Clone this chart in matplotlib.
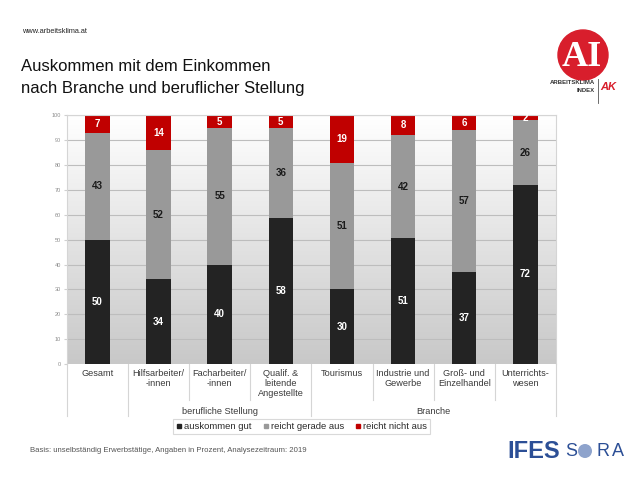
import numpy as np
import matplotlib
matplotlib.use("Agg")
import matplotlib.pyplot as plt
from matplotlib import font_manager
from matplotlib.colors import LinearSegmentedColormap
from matplotlib.patches import Circle
from matplotlib.lines import Line2D

categories = ["Gesamt", "Hilfsarbeiter/\n-innen", "Facharbeiter/\n-innen",
              "Qualif. &\nleitende\nAngestellte", "Tourismus", "Industrie und\nGewerbe",
              "Groß- und\nEinzelhandel", "Unterrichts-\nwesen"]
gut = [50, 34, 40, 58, 30, 51, 37, 72]
gerade = [43, 52, 55, 36, 51, 42, 57, 26]
nicht = [7, 14, 5, 5, 19, 8, 6, 2]
series_names = ["auskommen gut", "reicht gerade aus", "reicht nicht aus"]
group_names = ["berufliche Stellung", "Branche"]
yticks = list(range(0, 101, 10))

names = {f.name for f in font_manager.fontManager.ttflist}
BASE = "Liberation Sans" if "Liberation Sans" in names else "DejaVu Sans"
NARROW = "Liberation Sans Narrow" if "Liberation Sans Narrow" in names else BASE
title_size = 13.5 if NARROW != BASE else 12
plt.rcParams["font.family"] = [BASE, "DejaVu Sans"]

W, H = 640, 484
fig = plt.figure(figsize=(W / 100, H / 100), dpi=100)
fig.patch.set_facecolor("white")

def fx(px):
    return px / W

def fy(py):
    return 1 - py / H

ax_l, ax_r, ax_t, ax_b = 66.7, 556, 115.3, 364
ax = fig.add_axes([fx(ax_l), fy(ax_b), fx(ax_r) - fx(ax_l), (ax_b - ax_t) / H])

n = len(categories)
x = np.arange(n)
g = np.array(gut, float)
m = np.array(gerade, float)
r = np.array(nicht, float)
tot = g + m + r
gn, mn, rn = g / tot * 100, m / tot * 100, r / tot * 100

cmap = LinearSegmentedColormap.from_list("bg", ["#c8c8c8", "#ffffff"])
grad = np.linspace(0, 1, 256).reshape(-1, 1)
ax.imshow(grad, extent=[-0.5, n - 0.5, 0, 100], aspect="auto", cmap=cmap,
          origin="lower", zorder=0)
ax.set_xlim(-0.5, n - 0.5)
ax.set_ylim(0, 100)
for yv in yticks[1:]:
    ax.axhline(yv, color="#bdbdbd", lw=0.8, zorder=1)

cols = ["#232323", "#999999", "#c00000"]
bw = 0.4
ax.bar(x, gn, bw, color=cols[0], zorder=2, label=series_names[0])
ax.bar(x, mn, bw, bottom=gn, color=cols[1], zorder=2, label=series_names[1])
ax.bar(x, rn, bw, bottom=gn + mn, color=cols[2], zorder=2, label=series_names[2])

vfs = 7
for i in range(n):
    ax.text(x[i], gn[i] / 2, str(gut[i]), ha="center", va="center", color="white",
            fontsize=vfs, fontweight="bold", zorder=3)
    ax.text(x[i], gn[i] + mn[i] / 2, str(gerade[i]), ha="center", va="center",
            color="#1a1a1a", fontsize=vfs, fontweight="bold", zorder=3)
    ax.text(x[i], gn[i] + mn[i] + rn[i] / 2, str(nicht[i]), ha="center", va="center",
            color="white", fontsize=vfs, fontweight="bold", zorder=3)

ax.set_yticks(yticks)
ax.set_yticklabels([str(v) for v in yticks], fontsize=4, color="#8c8c8c")
ax.tick_params(axis="y", length=2, color="#d0d0d0", pad=2)
ax.set_xticks([])
for s in ["left", "right", "top"]:
    ax.spines[s].set_color("#d5d5d5")
    ax.spines[s].set_linewidth(0.8)
ax.spines["bottom"].set_visible(False)

hpx = ax_b - ax_t
def ay(py):
    return (ax_b - py) / hpx

trans = ax.get_xaxis_transform()
long_b = [-0.5, 0.5, 3.5, n - 0.5]
for b in np.arange(-0.5, n, 1.0):
    yend = ay(416) if b in long_b else ay(400)
    ax.add_line(Line2D([b, b], [0, yend], transform=trans, color="#d5d5d5", lw=0.8,
                       clip_on=False))

for i, c in enumerate(categories):
    ax.text(x[i], ay(368.5), c, transform=trans, ha="center", va="top", fontsize=6.6,
            color="#3a3a3a", linespacing=1.15, clip_on=False)
ax.text(2, ay(411), group_names[0], transform=trans, ha="center", va="center",
        fontsize=6.6, color="#3a3a3a", clip_on=False)
ax.text(5.5, ay(411), group_names[1], transform=trans, ha="center", va="center",
        fontsize=6.6, color="#3a3a3a", clip_on=False)

handles = [Line2D([], [], marker="s", ls="", color=c, markersize=3.5) for c in cols]
leg = fig.legend(handles, series_names, loc="center", bbox_to_anchor=(fx(301.7), fy(426.5)),
                 ncol=3, fontsize=6.8, frameon=True, fancybox=False, handlelength=0.6,
                 handletextpad=0.2, columnspacing=1.2, borderpad=0.35)
leg.get_frame().set_edgecolor("#d0d0d0")
leg.get_frame().set_linewidth(0.8)
for t in leg.get_texts():
    t.set_color("#2a2a2a")

fig.text(fx(22), fy(33), "www.arbeitsklima.at", fontsize=5.3, color="#222222",
         va="baseline")
fig.text(fx(21), fy(71), "Auskommen mit dem Einkommen", fontsize=title_size,
         color="#111111", va="baseline", family=[NARROW, "DejaVu Sans"])
fig.text(fx(21), fy(93.5), "nach Branche und beruflicher Stellung", fontsize=title_size,
         color="#111111", va="baseline", family=[NARROW, "DejaVu Sans"])
fig.text(fx(30), fy(451), "Basis: unselbständig Erwerbstätige, Angaben in Prozent, Analysezeitraum: 2019",
         fontsize=5.6, color="#555555", va="center")

# AI logo
logo_ax = fig.add_axes([0, 0, 1, 1], facecolor="none")
logo_ax.set_xlim(0, W)
logo_ax.set_ylim(H, 0)
logo_ax.axis("off")
logo_ax.add_patch(Circle((583, 55), 25, color="#d81e2c"))
logo_ax.text(582, 57, "AI", ha="center", va="center", fontsize=26, color="white",
             family="Liberation Serif", fontweight="bold")
logo_ax.text(595, 82, "ARBEITSKLIMA", ha="right", va="center", fontsize=4.3,
             color="#333333", fontweight="bold")
logo_ax.text(595, 90, "INDEX", ha="right", va="center", fontsize=4.3,
             color="#333333", fontweight="bold")
logo_ax.plot([597.5, 597.5], [79, 103], color="#555555", lw=0.6)
logo_ax.text(600, 87, "AK", ha="left", va="center", fontsize=8, color="#d81e2c",
             fontweight="bold", fontstyle="italic")

# IFES SORA logo
blue = "#2c4f96"
logo_ax.text(534, 451, "IFES", ha="center", va="center", fontsize=17, color=blue,
             fontweight="bold", family=[NARROW, "DejaVu Sans"])
logo_ax.text(571, 451, "S", ha="center", va="center", fontsize=13, color=blue)
logo_ax.add_patch(Circle((585, 451), 7, facecolor="#8ea3cc", edgecolor="none"))
logo_ax.text(603, 451, "R", ha="center", va="center", fontsize=13, color=blue)
logo_ax.text(618, 451, "A", ha="center", va="center", fontsize=13, color=blue)

fig.savefig("out.png", dpi=100)
